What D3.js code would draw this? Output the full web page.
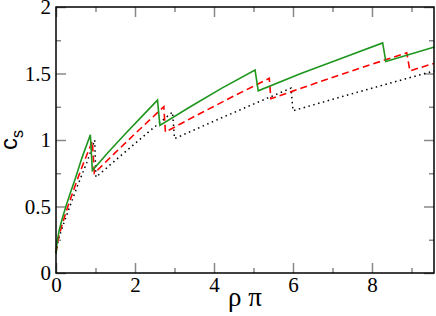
<!DOCTYPE html>
<html>
<head>
<meta charset="utf-8">
<script src="https://cdn.jsdelivr.net/npm/d3@7"></script>
<style>
  body { margin: 0; background: #fff; }
  svg { display: block; }
  .tick text { font-family: "Liberation Serif", "Times New Roman", serif; }
</style>
</head>
<body>
<svg id="chart"></svg>
<script>
// values, [rho pi, c_s]
var greenSolid = [
  [0, 0.15], [0.03, 0.24], [0.08, 0.32], [0.15, 0.40], [0.25, 0.50], [0.36, 0.60],
  [0.5, 0.72], [0.65, 0.86], [0.87, 1.04], [0.92, 0.77],
  [1.3, 0.90], [1.75, 1.045], [2.2, 1.185], [2.57, 1.30], [2.63, 1.11],
  [3.4, 1.25], [4.2, 1.39], [5.04, 1.526], [5.12, 1.37],
  [6.2, 1.50], [7.2, 1.61], [8.27, 1.73], [8.35, 1.59],
  [9.58, 1.70]
];
var redDashed = [
  [0, 0.15], [0.05, 0.25], [0.15, 0.36], [0.3, 0.5], [0.5, 0.67], [0.7, 0.83],
  [0.92, 0.99], [0.97, 0.75],
  [1.5, 0.905], [2.1, 1.075], [2.73, 1.25], [2.77, 1.06],
  [3.6, 1.192], [4.5, 1.33], [5.40, 1.464], [5.44, 1.31],
  [6.6, 1.43], [7.8, 1.55], [8.88, 1.656], [8.96, 1.52],
  [9.58, 1.577]
];
var blackDotted = [
  [0, 0.15], [0.06, 0.25], [0.18, 0.36], [0.35, 0.5], [0.55, 0.66], [0.78, 0.83],
  [0.98, 1.0], [1.01, 0.72],
  [1.6, 0.872], [2.3, 1.05], [2.95, 1.21], [3.0, 1.01],
  [4.0, 1.142], [5.0, 1.27], [5.95, 1.39], [6.0, 1.22],
  [7.2, 1.323], [8.4, 1.423], [9.58, 1.52]
];
var xMajor = [0, 2, 4, 6, 8];
var xMinor = [1, 3, 5, 7, 9];
var yMajor = [0, 0.5, 1, 1.5, 2];
var yMinor = [0.25, 0.75, 1.25, 1.75];

var width = 436, height = 316;
var mLeft = 56, mRight = 434, mTop = 7, mBottom = 273;

var svg = d3.select("#chart")
    .attr("width", width)
    .attr("height", height);

var x = d3.scaleLinear().domain([0, 9.57]).range([mLeft, mRight]);
var y = d3.scaleLinear().domain([0, 2]).range([mBottom, mTop]);

function styleAxis(g, labels) {
  g.attr("font-family", "Liberation Serif, serif");
  g.select(".domain").remove();
  g.selectAll(".tick line").attr("stroke", "#888").attr("stroke-width", 1.5);
  if (!labels) g.selectAll(".tick text").remove();
  else g.selectAll(".tick text")
      .attr("fill", "#000")
      .style("font-size", "21px");
}

// bottom
svg.append("g").attr("transform", "translate(0," + mBottom + ")")
    .call(d3.axisBottom(x).tickValues(xMajor).tickSize(-10).tickPadding(4).tickFormat(d3.format("d")))
    .call(styleAxis, true);
svg.append("g").attr("transform", "translate(0," + mBottom + ")")
    .call(d3.axisBottom(x).tickValues(xMinor).tickSize(-5))
    .call(styleAxis, false);
// top
svg.append("g").attr("transform", "translate(0," + mTop + ")")
    .call(d3.axisTop(x).tickValues(xMajor).tickSize(-10))
    .call(styleAxis, false);
svg.append("g").attr("transform", "translate(0," + mTop + ")")
    .call(d3.axisTop(x).tickValues(xMinor).tickSize(-5))
    .call(styleAxis, false);
// left
svg.append("g").attr("transform", "translate(" + mLeft + ",0)")
    .call(d3.axisLeft(y).tickValues(yMajor).tickSize(-10).tickPadding(5).tickFormat(function(d) { return String(d); }))
    .call(styleAxis, true);
svg.append("g").attr("transform", "translate(" + mLeft + ",0)")
    .call(d3.axisLeft(y).tickValues(yMinor).tickSize(-5))
    .call(styleAxis, false);
// right
svg.append("g").attr("transform", "translate(" + mRight + ",0)")
    .call(d3.axisRight(y).tickValues(yMajor).tickSize(-10))
    .call(styleAxis, false);
svg.append("g").attr("transform", "translate(" + mRight + ",0)")
    .call(d3.axisRight(y).tickValues(yMinor).tickSize(-5))
    .call(styleAxis, false);

// curves
var line = d3.line().x(function(d) { return x(d[0]); }).y(function(d) { return y(d[1]); });

svg.append("path").datum(blackDotted)
    .attr("d", line).attr("fill", "none")
    .attr("stroke", "#000").attr("stroke-width", 1.5)
    .attr("stroke-dasharray", "1.5,3.5");
svg.append("path").datum(redDashed)
    .attr("d", line).attr("fill", "none")
    .attr("stroke", "#ff0000").attr("stroke-width", 1.6)
    .attr("stroke-dasharray", "7,4");
svg.append("path").datum(greenSolid)
    .attr("d", line).attr("fill", "none")
    .attr("stroke", "#1e961e").attr("stroke-width", 1.6);

// frame
svg.append("rect")
    .attr("x", mLeft).attr("y", mTop)
    .attr("width", mRight - mLeft).attr("height", mBottom - mTop)
    .attr("fill", "none").attr("stroke", "#000").attr("stroke-width", 1.5);

// axis titles
svg.append("text")
    .attr("x", (mLeft + mRight) / 2).attr("y", 306)
    .attr("text-anchor", "middle")
    .style("font-family", "'Liberation Serif', serif")
    .style("font-size", "27px")
    .text("ρ π");

var yt = svg.append("text")
    .attr("transform", "translate(17,140) rotate(-90)")
    .attr("text-anchor", "middle")
    .style("font-family", "'Liberation Sans', Arial, sans-serif")
    .style("font-size", "24px");
yt.append("tspan").text("c");
yt.append("tspan").attr("dy", 6).style("font-size", "16px").text("s");
</script>
</body>
</html>
